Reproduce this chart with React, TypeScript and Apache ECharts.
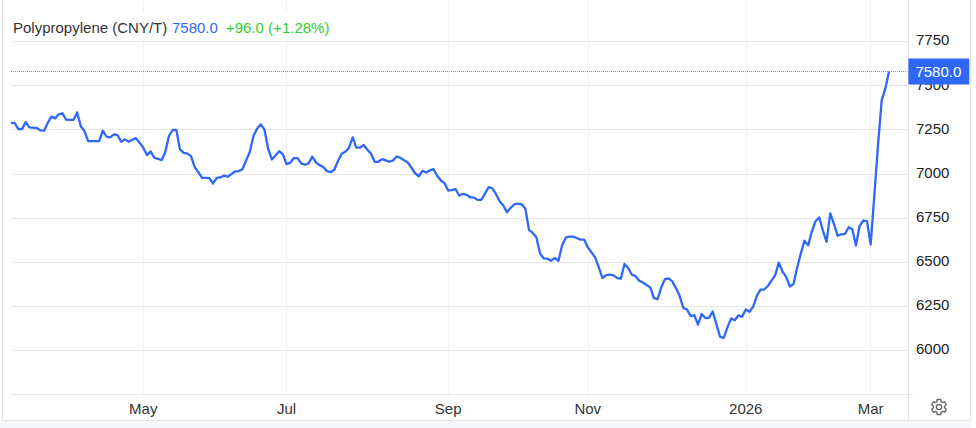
import React, { useEffect, useRef } from "react";
import * as echarts from "echarts";

const seriesName = "Polypropylene (CNY/T)";
const lastText = "7580.0";
const changeText = "+96.0 (+1.28%)";
const lastValue = 7580;

const valuesSpring = [7288,7288,7253,7253,7293,7263,7261,7259,7246,7244,7288,7324,7314,7337,7343,7307,7305,7305,7348,7269,7242,7185,7185,7185,7185,7244,7210,7206,7223,7219,7182,7195,7182,7193,7202,7176];
const valuesMayJun = [7148,7106,7127,7091,7085,7077,7123,7214,7248,7248,7138,7119,7114,7100,7038,7009,6977,6977,6975,6945,6977,6979,6990,6983,6998,7013,7015,7026,7076,7123,7214,7256,7280,7250,7142,7081,7104,7128,7110];
const valuesJulAug = [7055,7063,7089,7089,7059,7051,7059,7097,7064,7049,7038,7015,7009,7023,7072,7114,7125,7148,7206,7148,7148,7163,7136,7114,7068,7068,7083,7076,7068,7076,7098,7091,7076,7064,7034,7003,6986,7017,7007,7019,7026,6989,6962,6947];
const valuesSepOct = [6905,6907,6913,6877,6886,6881,6867,6865,6852,6852,6886,6924,6918,6886,6844,6820,6782,6807,6827,6831,6827,6803,6682,6665,6640,6549,6520,6519,6507,6523,6506,6593,6638,6644,6644,6636,6627,6627];
const valuesNovDec = [6583,6555,6526,6469,6409,6426,6428,6424,6409,6405,6489,6466,6428,6420,6394,6384,6369,6356,6295,6290,6356,6403,6407,6390,6352,6308,6240,6231,6193,6199,6145,6205,6182,6184,6219,6148,6076,6070,6128,6180,6170,6197,6189];
const valuesJanFeb = [6231,6218,6246,6307,6343,6344,6364,6394,6424,6496,6445,6416,6361,6375,6469,6549,6621,6594,6674,6731,6753,6678,6614,6776,6716,6649,6657,6659,6697,6685,6593,6705,6735,6731];
const valuesMar = [6600,6877,7161,7416,7484,7580];

const values = [...valuesSpring, ...valuesMayJun, ...valuesJulAug, ...valuesSepOct, ...valuesNovDec, ...valuesJanFeb, ...valuesMar];

const tickLabels = ["May", "Jul", "Sep", "Nov", "2026", "Mar"];
const tickIndexes = [36, 75, 119, 157, 200, 234];
const categoryCount = 245;
const categories = Array.from({ length: categoryCount }, (_, i) => {
  const k = tickIndexes.indexOf(i);
  return k >= 0 ? tickLabels[k] : String(i);
});
const isTick = (i: number) => tickIndexes.includes(i);

const GEAR =
  "M19.43 12.98c.04-.32.07-.64.07-.98s-.03-.66-.07-.98l2.11-1.65c.19-.15.24-.42.12-.64l-2-3.46c-.12-.22-.39-.3-.61-.22l-2.49 1c-.52-.4-1.08-.73-1.69-.98l-.38-2.65C14.46 2.18 14.25 2 14 2h-4c-.25 0-.46.18-.49.42l-.38 2.65c-.61.25-1.17.59-1.69.98l-2.49-1c-.23-.09-.49 0-.61.22l-2 3.46c-.13.22-.07.49.12.64l2.11 1.65c-.04.32-.07.65-.07.98s.03.66.07.98l-2.11 1.65c-.19.15-.24.42-.12.64l2 3.46c.12.22.39.3.61.22l2.49-1c.52.4 1.08.73 1.69.98l.38 2.65c.03.24.24.42.49.42h4c.25 0 .46-.18.49-.42l.38-2.65c.61-.25 1.17-.59 1.69-.98l2.49 1c.23.09.49 0 .61-.22l2-3.46c.12-.22.07-.49-.12-.64l-2.11-1.65zM12 15.5c-1.93 0-3.5-1.57-3.5-3.5s1.57-3.5 3.5-3.5 3.5 1.57 3.5 3.5-1.57 3.5-3.5 3.5z";

const FONT = '"Liberation Sans", Arial, sans-serif';
const BLUE = "#2f67fb";
const LINE = "#e6e6e6";

export default function App() {
  const ref = useRef<HTMLDivElement>(null);
  useEffect(() => {
    if (!ref.current) return;
    echarts.graphic.registerShape("gear", echarts.graphic.extendPath(GEAR, {}) as any);
    const chart = echarts.init(ref.current, undefined, { renderer: "svg" });
    const frame = (x1: number, y1: number, x2: number, y2: number, color = LINE) => ({
      type: "line",
      silent: true,
      z: 5,
      shape: { x1, y1, x2, y2 },
      style: { stroke: color, lineWidth: 1 },
    });
    const head = (x: number, text: string, fill: string) => ({
      type: "text",
      z: 12,
      x,
      y: 27.5,
      style: { text, fill, font: `15px ${FONT}`, textVerticalAlign: "middle", textAlign: "left" },
    });
    chart.setOption({
      animation: false,
      backgroundColor: "#ffffff",
      grid: { left: 11, top: 0, width: 896.4, height: 394.3, containLabel: false },
      xAxis: {
        type: "category",
        data: categories,
        boundaryGap: false,
        axisLine: { show: true, lineStyle: { color: LINE, width: 1 } },
        axisTick: { show: false },
        splitLine: { show: true, interval: (i: number) => isTick(i), lineStyle: { color: "#eff1f4", width: 1 } },
        axisLabel: {
          interval: (i: number) => isTick(i),
          color: "#333333",
          fontFamily: FONT,
          fontSize: 15,
          margin: 7,
        },
      },
      yAxis: {
        type: "value",
        position: "right",
        min: 5750,
        max: 7985,
        interval: 250,
        axisLine: { show: false },
        axisTick: { show: false },
        splitLine: { show: true, showMaxLine: false, lineStyle: { color: LINE, width: 1 } },
        axisLabel: {
          showMinLabel: false,
          showMaxLabel: false,
          formatter: (v: number) => `{a|${v}}`,
          margin: 8.6,
          rich: {
            a: {
              color: "#222222",
              fontFamily: FONT,
              fontSize: 15,
              lineHeight: 15,
              padding: [0, 0, 3, 0],
            },
          },
        },
      },
      series: [
        {
          type: "line",
          name: seriesName,
          data: values,
          showSymbol: false,
          smooth: false,
          clip: false,
          z: 3,
          lineStyle: { color: BLUE, width: 2.3, join: "round" },
          markLine: {
            silent: true,
            symbol: "none",
            animation: false,
            lineStyle: { type: [1, 1], color: "#7f8fb8", width: 1 },
            label: {
              show: true,
              position: "end",
              distance: 1,
              formatter: lastText,
              color: "#ffffff",
              backgroundColor: BLUE,
              fontFamily: FONT,
              fontSize: 15,
              lineHeight: 14,
              padding: [6, 8, 6, 7],
            },
            data: [{ yAxis: lastValue }],
          },
        },
      ],
      graphic: [
        { type: "rect", silent: true, z: 1, shape: { x: 0, y: 421, width: 971, height: 7 }, style: { fill: "#f5f6f9" } },
        frame(2.5, 0, 2.5, 420.5),
        frame(970.5, 0, 970.5, 420.5),
        frame(2.5, 420.5, 970.5, 420.5),
        frame(908.5, 0, 908.5, 420.5),
        frame(907, 394.5, 913, 394.5),
        { type: "rect", silent: true, z: 11, shape: { x: 11, y: 12, width: 324, height: 28 }, style: { fill: "#ffffff" } },
        head(13, seriesName, "#333333"),
        head(172, lastText, "#3366ff"),
        head(226, changeText, "#33cc33"),
        {
          type: "gear",
          silent: true,
          z: 12,
          x: 930,
          y: 398,
          scaleX: 0.75,
          scaleY: 0.75,
          style: { fill: "none", stroke: "#666666", lineWidth: 1.8 },
        },
      ],
    });
    return () => chart.dispose();
  }, []);
  return <div ref={ref} style={{ position: "fixed", left: 0, top: 0, width: 976, height: 428 }} />;
}
